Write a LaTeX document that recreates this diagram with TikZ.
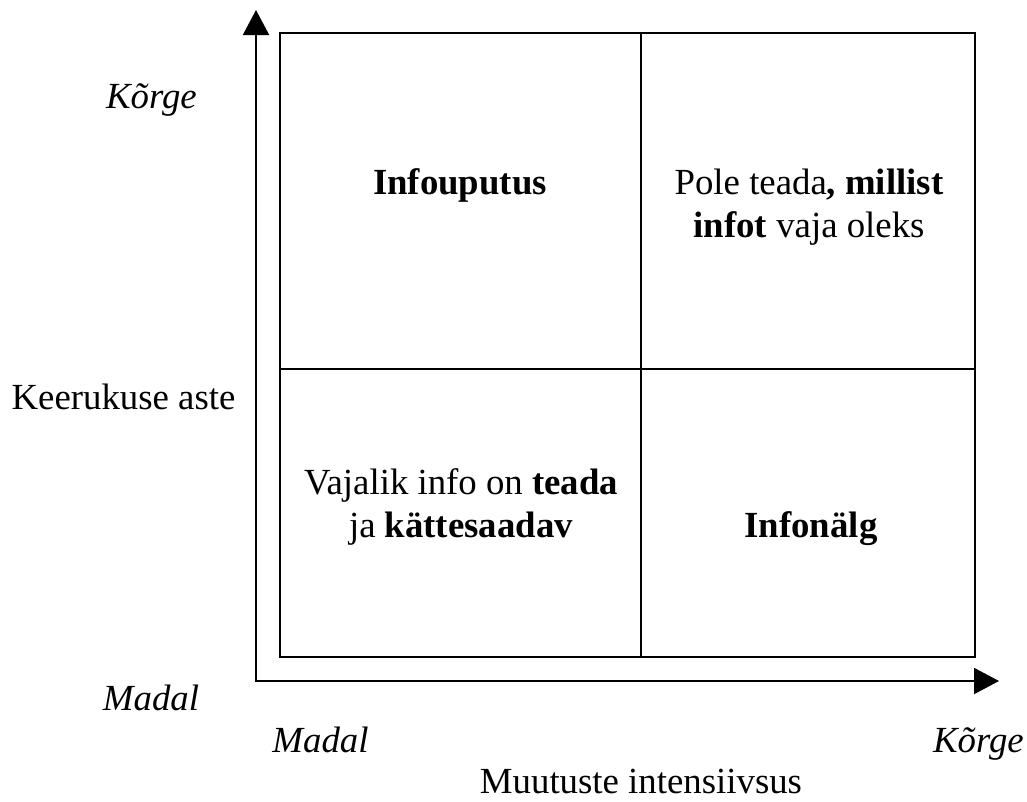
\documentclass[tikz,border=0pt]{standalone}
\usepackage{fontspec}
\setmainfont{Liberation Serif}
\usetikzlibrary{arrows.meta}
\begin{document}
\begin{tikzpicture}[x=1pt,y=-1pt,
  txt/.style={inner sep=0pt,font=\fontsize{36.8}{43}\selectfont,align=center},
  frame/.style={line width=2pt},
  axis/.style={line width=2pt,{Triangle[length=25pt,width=26pt]}-{Triangle[length=25pt,width=26pt]}}]
  \useasboundingbox (0,0) rectangle (1027,801);
  % axes
  \coordinate (ytop) at (256,10);
  \coordinate (origin) at (256,681);
  \coordinate (xend) at (999,681);
  \draw[axis] (ytop) -- (origin) -- (xend);
  % quadrant grid
  \coordinate (nw) at (280,33);
  \coordinate (se) at (975,657);
  \draw[frame] (nw) rectangle (se);
  \draw[frame] (641,33) -- (641,657);
  \draw[frame] (280,369) -- (975,369);
  % quadrant texts (base = baseline of the last line)
  \node[txt,anchor=base] (q1) at (460,194) {\textbf{Infouputus}};
  \node[txt,anchor=base] (q2) at (809,237) {Pole teada\textbf{, millist}\\\textbf{infot} vaja oleks};
  \node[txt,anchor=base] (q3) at (461,537) {Vajalik info on \textbf{teada}\\ja \textbf{kättesaadav}};
  \node[txt,anchor=base] (q4) at (811,537) {\textbf{Infonälg}};
  % axis labels
  \node[txt,anchor=base] (yhigh) at (151.5,108) {\textit{Kõrge}};
  \node[txt,anchor=base] (ylabel) at (123.5,409) {Keerukuse aste};
  \node[txt,anchor=base] (ylow) at (151,710) {\textit{Madal}};
  \node[txt,anchor=base] (xlow) at (320.5,752) {\textit{Madal}};
  \node[txt,anchor=base] (xhigh) at (978.5,752) {\textit{Kõrge}};
  \node[txt,anchor=base] (xlabel) at (641,793) {Muutuste intensiivsus};
\end{tikzpicture}
\end{document}
